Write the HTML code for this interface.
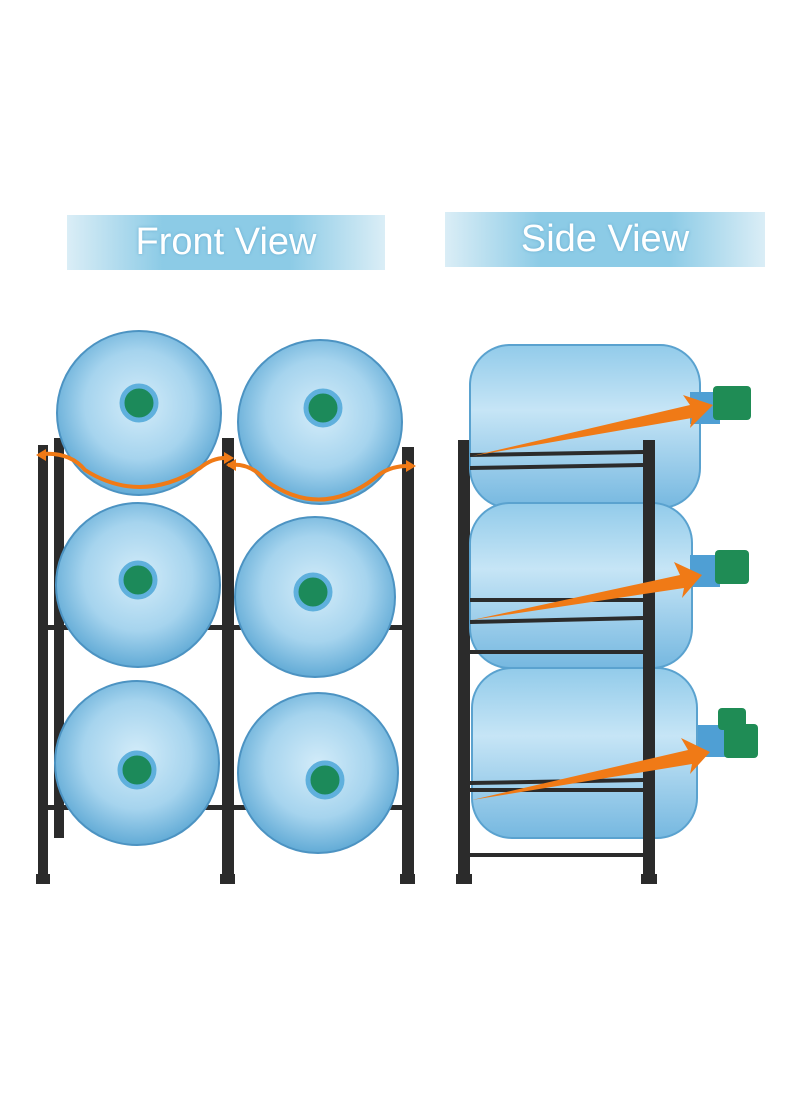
<!DOCTYPE html>
<html><head><meta charset="utf-8"><style>
html,body{margin:0;padding:0;background:#fff;}
.b{position:absolute;height:55px;display:flex;align-items:center;justify-content:center;font-family:"Liberation Sans",sans-serif;font-size:38px;color:#fff;
background:linear-gradient(90deg,rgba(150,205,230,0.35),#8ccbe6 30%,#8ccbe6 70%,rgba(150,205,230,0.35));text-shadow:0 0 3px #6aaed0;}
</style></head><body>
<div style="position:relative;width:800px;height:1096px;overflow:hidden">
<div class="b" style="left:67px;top:215px;width:318px">Front View</div>
<div class="b" style="left:445px;top:212px;width:320px">Side View</div>
<svg width="800" height="1096" style="position:absolute;left:0;top:0">
<defs>
<radialGradient id="g" cx="50%" cy="45%" r="55%"><stop offset="0" stop-color="#d3ecf9"/><stop offset="0.6" stop-color="#a6d4ee"/><stop offset="1" stop-color="#62abd6"/></radialGradient>
<linearGradient id="s" x1="0" y1="0" x2="0" y2="1"><stop offset="0" stop-color="#92cbea"/><stop offset="0.4" stop-color="#c6e5f6"/><stop offset="1" stop-color="#76b8e0"/></linearGradient>
</defs>
<g fill="#2b2b2b">
<rect x="38" y="445" width="10" height="435"/><rect x="54" y="438" width="10" height="400"/>
<rect x="222" y="438" width="12" height="445"/><rect x="402" y="447" width="12" height="435"/>
<rect x="38" y="625" width="376" height="5"/><rect x="38" y="805" width="376" height="5"/>
<rect x="36" y="874" width="14" height="10"/><rect x="220" y="874" width="15" height="10"/><rect x="400" y="874" width="15" height="10"/>
</g>
<g stroke="#4c93c2" stroke-width="2" fill="url(#g)">
<circle cx="139" cy="413" r="82"/><circle cx="320" cy="422" r="82"/>
<circle cx="138" cy="585" r="82"/><circle cx="315" cy="597" r="80"/>
<circle cx="137" cy="763" r="82"/><circle cx="318" cy="773" r="80"/>
</g>
<g fill="#1c8a5a" stroke="#5fb0dd" stroke-width="5">
<circle cx="139" cy="403" r="17"/><circle cx="323" cy="408" r="17"/>
<circle cx="138" cy="580" r="17"/><circle cx="313" cy="592" r="17"/>
<circle cx="137" cy="770" r="17"/><circle cx="325" cy="780" r="17"/>
</g>
<g fill="none" stroke="#f07a16" stroke-width="4">
<path d="M42 454 Q70 452 85 470 Q140 505 200 468 Q212 458 225 458"/>
<path d="M228 465 Q250 462 265 480 Q320 520 375 478 Q388 466 408 466"/>
</g>
<g fill="#f07a16"><path d="M36 455 l10 -6 v12z"/><path d="M234 458 l-10 -6 v12z"/><path d="M226 465 l10 -6 v12z"/><path d="M416 466 l-10 -6 v12z"/></g>
<!-- side rack -->
<g fill="#2b2b2b">
<rect x="458" y="440" width="12" height="440"/>
<rect x="456" y="874" width="16" height="10"/><rect x="641" y="874" width="16" height="10"/>
</g>
<g>
<rect x="470" y="345" width="230" height="163" rx="40" fill="url(#s)" stroke="#5aa2cf" stroke-width="2"/>
<rect x="470" y="503" width="222" height="165" rx="40" fill="url(#s)" stroke="#5aa2cf" stroke-width="2"/>
<rect x="472" y="668" width="225" height="170" rx="40" fill="url(#s)" stroke="#5aa2cf" stroke-width="2"/>
<rect x="690" y="392" width="30" height="32" fill="#4f9fd4"/><rect x="713" y="386" width="38" height="34" rx="4" fill="#1f8c55"/>
<rect x="690" y="555" width="30" height="32" fill="#4f9fd4"/><rect x="715" y="550" width="34" height="34" rx="4" fill="#1f8c55"/>
<rect x="698" y="725" width="30" height="32" fill="#4f9fd4"/><rect x="718" y="708" width="28" height="22" rx="4" fill="#1f8c55"/><rect x="724" y="724" width="34" height="34" rx="4" fill="#1f8c55"/>
</g>
<rect x="643" y="440" width="12" height="440" fill="#2b2b2b"/>
<g stroke="#2b2b2b" stroke-width="4">
<line x1="470" y1="455" x2="643" y2="452"/><line x1="470" y1="468" x2="643" y2="465"/>
<line x1="470" y1="600" x2="643" y2="600"/><line x1="470" y1="622" x2="643" y2="618"/><line x1="470" y1="652" x2="643" y2="652"/>
<line x1="470" y1="783" x2="643" y2="780"/><line x1="470" y1="790" x2="643" y2="790"/><line x1="470" y1="855" x2="643" y2="855"/>
</g>
<g fill="#f07a16">
<path d="M472 456 L690 405 L683 395 L713 405 L690 428 L692 418 Z"/>
<path d="M472 620 L680 575 L674 562 L702 575 L682 598 L684 588 Z"/>
<path d="M472 800 L688 750 L681 738 L710 752 L690 774 L692 764 Z"/>
</g>
</svg>
</div>
</body></html>
